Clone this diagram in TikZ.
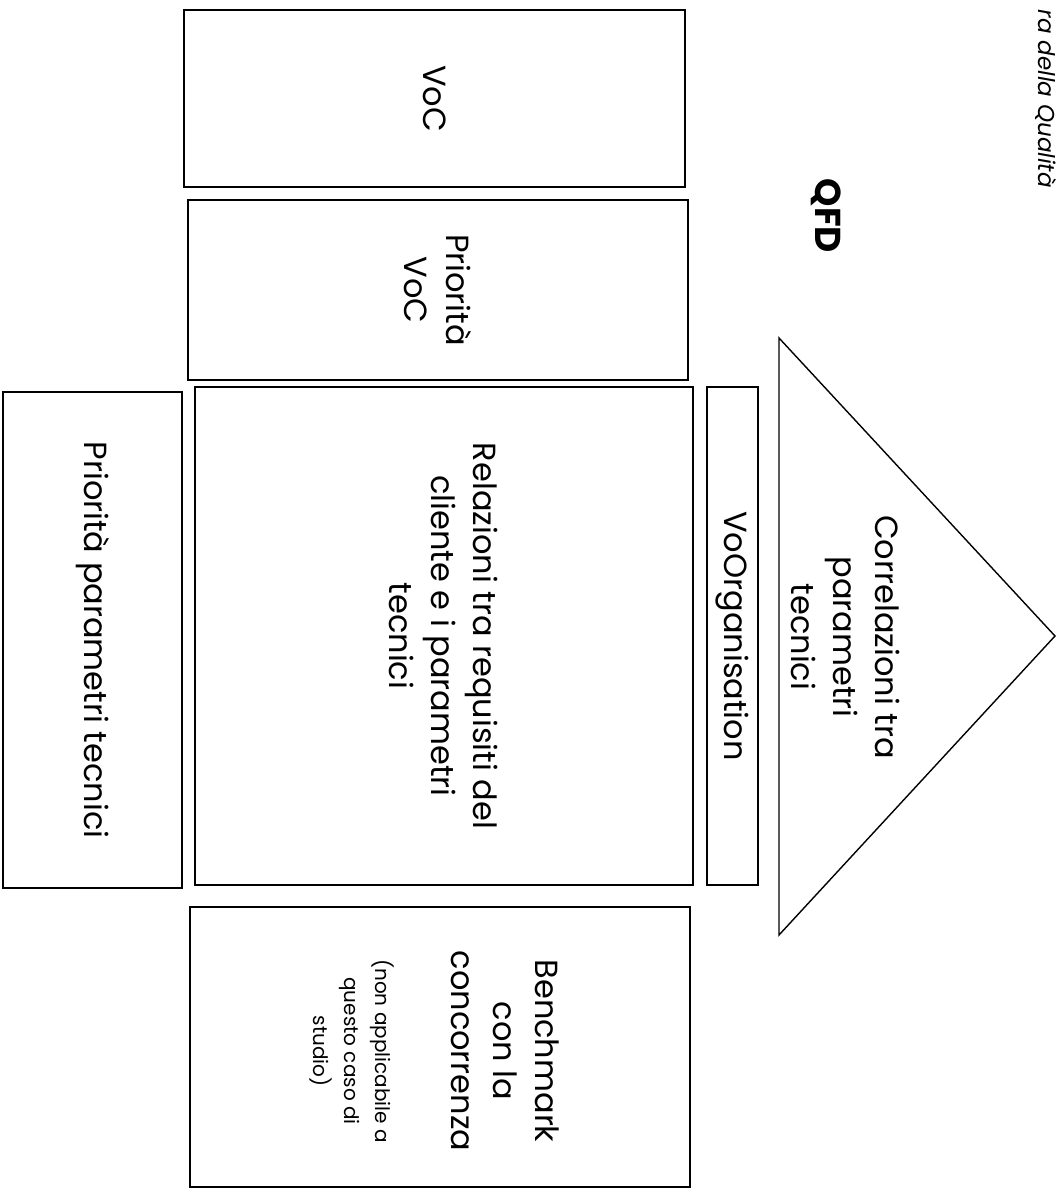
\documentclass[tikz,border=0pt]{standalone}
\usepackage{fontspec}
\setmainfont{Poppins}
\begin{document}
\begin{tikzpicture}[x=1pt,y=-1pt,
  box/.style={draw,line width=1.6pt,rotate=-90,align=center,inner sep=0pt,
    font=\fontsize{32}{42}\selectfont},
  txt/.style={rotate=-90,align=center,inner sep=0pt,
    font=\fontsize{32}{42}\selectfont}]
\useasboundingbox (0,0) rectangle (1061,1190);
% rotated boxes: minimum width = vertical size, minimum height = horizontal size
\node[box,minimum width=177pt,minimum height=501pt] (voc) at (434.5,98.5) {VoC};
\node[box,minimum width=180pt,minimum height=500pt] (vocprio) at (438,290) {Priorità\\VoC};
\node[box,minimum width=498pt,minimum height=498pt] (rel) at (444,636)
  {Relazioni tra requisiti del\\cliente e i parametri\\tecnici};
\node[box,minimum width=498pt,minimum height=51pt] (voorg) at (732.5,636) {VoOrganisation};
\node[box,minimum width=496pt,minimum height=179pt] (tecprio) at (92.5,640)
  {Priorità parametri tecnici};
\node[box,minimum width=280pt,minimum height=500pt] (bench) at (440,1047) {};
\node[txt] (benchtxt) at (505,1051) {Benchmark\\con la\\concorrenza};
\node[txt,font=\fontsize{20}{31}\selectfont] (benchnote) at (352,1051)
  {(non applicabile a\\questo caso di\\studio)};
% roof
\coordinate (ttop) at (779,338);
\coordinate (tapex) at (1055,636);
\coordinate (tbot) at (779,935);
\draw[line width=1.4pt] (ttop) -- (tapex) -- (tbot) -- cycle;
\node[txt] (corr) at (846,637) {Correlazioni tra\\parametri\\tecnici};
% title
\node[txt,font=\bfseries\fontsize{36}{42}\selectfont] (qfd) at (826,216) {QFD};
\node[txt,anchor=east,font=\itshape\fontsize{23}{28}\selectfont] (title) at (1046,188)
  {ra della Qualità};
\end{tikzpicture}
\end{document}
